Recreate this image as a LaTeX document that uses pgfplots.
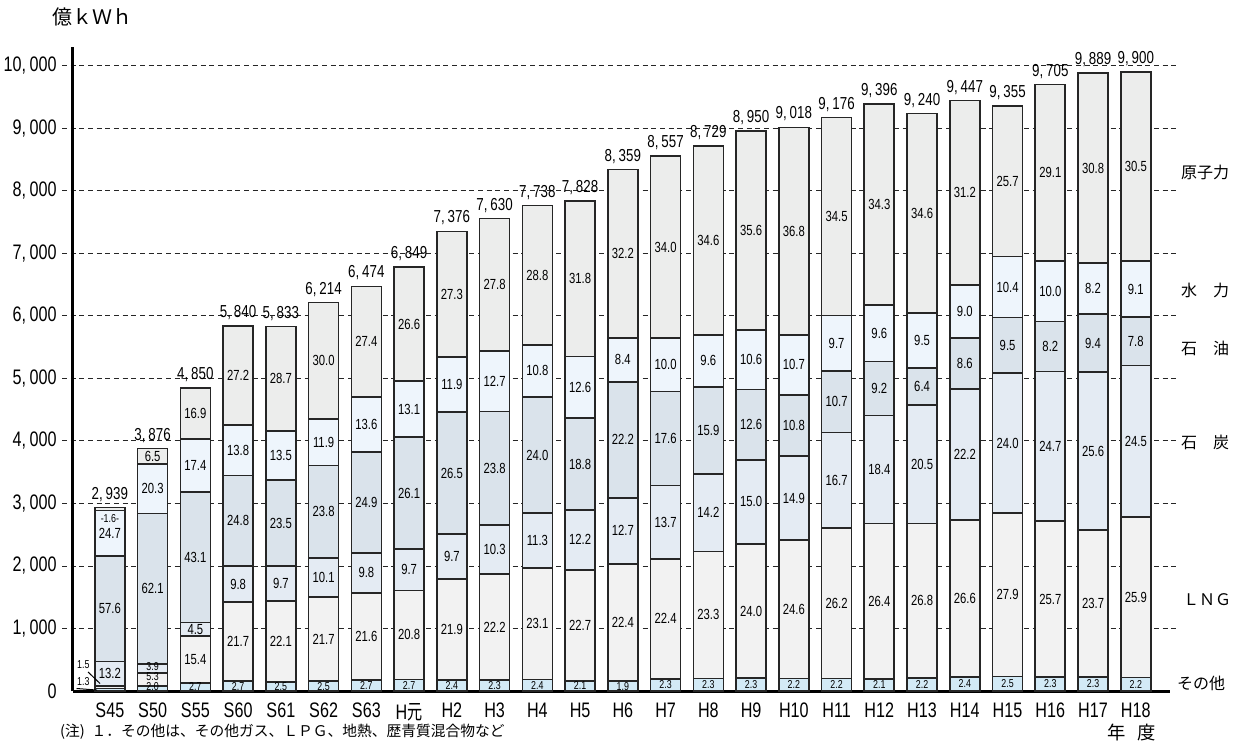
\documentclass[border=0pt]{standalone}
\usepackage{fontspec}
\usepackage{pgfplots}
\usepackage{pgfplotstable}
\pgfplotsset{compat=1.18}
\setmainfont{Liberation Sans}
\newfontfamily\nf[FakeStretch=0.77]{Liberation Sans}
\newfontfamily\jp{Noto Sans CJK JP}
\newfontfamily\jpn[FakeStretch=0.72]{Noto Sans CJK JP}
\definecolor{cOther}{HTML}{D3EAF6}
\definecolor{cLNG}{HTML}{F2F2F2}
\definecolor{cCoal}{HTML}{E4EBF3}
\definecolor{cOil}{HTML}{DAE3EB}
\definecolor{cHydro}{HTML}{EEF5FC}
\definecolor{cNuc}{HTML}{ECEDEC}

% total [100 million kWh], shares [%]: other, LNG, coal, oil, hydro, nuclear
\pgfplotstableread{
x total o lng coal oil hydro nuc
0 2939 1.3 1.5 13.2 57.6 24.7 1.6
1 3876 2.0 5.3 3.9 62.1 20.3 6.5
2 4850 2.7 15.4 4.5 43.1 17.4 16.9
3 5840 2.7 21.7 9.8 24.8 13.8 27.2
4 5833 2.5 22.1 9.7 23.5 13.5 28.7
5 6214 2.5 21.7 10.1 23.8 11.9 30.0
6 6474 2.7 21.6 9.8 24.9 13.6 27.4
7 6849 2.7 20.8 9.7 26.1 13.1 26.6
8 7376 2.4 21.9 9.7 26.5 11.9 27.3
9 7630 2.3 22.2 10.3 23.8 12.7 27.8
10 7738 2.4 23.1 11.3 24.0 10.8 28.8
11 7828 2.1 22.7 12.2 18.8 12.6 31.8
12 8359 1.9 22.4 12.7 22.2 8.4 32.2
13 8557 2.3 22.4 13.7 17.6 10.0 34.0
14 8729 2.3 23.3 14.2 15.9 9.6 34.6
15 8950 2.3 24.0 15.0 12.6 10.6 35.6
16 9018 2.2 24.6 14.9 10.8 10.7 36.8
17 9176 2.2 26.2 16.7 10.7 9.7 34.5
18 9396 2.1 26.4 18.4 9.2 9.6 34.3
19 9240 2.2 26.8 20.5 6.4 9.5 34.6
20 9447 2.4 26.6 22.2 8.6 9.0 31.2
21 9355 2.5 27.9 24.0 9.5 10.4 25.7
22 9705 2.3 25.7 24.7 8.2 10.0 29.1
23 9889 2.3 23.7 25.6 9.4 8.2 30.8
24 9900 2.2 25.9 24.5 7.8 9.1 30.5
}\elec

\newcommand\segf{\nf\fontsize{8.8}{10}\selectfont}
\newcommand\smallf{\nf\fontsize{6.9}{8}\selectfont}
\newcommand\totf{\nf\fontsize{10.4}{12}\selectfont}

\pgfplotsset{
  common/.style={
    at={(0,0)}, anchor=south west,
    scale only axis, width=668.9pt, height=386.25pt,
    xmin=-1.12, xmax=24.96, ymin=0, ymax=10300,
    clip=false, scaled y ticks=false,
  },
  seg/.style={fill=#1, draw=black!85, line width=1pt},
  lab/.style={draw=none, mark=none, nodes near coords, point meta=explicit symbolic,
    every node near coord/.append style={anchor=center, inner sep=0pt, font=#1, text=black}},
}

\begin{document}
\begin{tikzpicture}
\useasboundingbox (-37.2pt,-32.4pt) rectangle (706.2pt,414.6pt);
\begin{axis}[
  common,
  ybar stacked, bar width=18pt,
  axis line style={draw=none},
  major tick length=0pt,
  xtick={0,...,24},
  xticklabels={S45,S50,S55,S60,S61,S62,S63,H{\jpn 元},H2,H3,H4,H5,H6,H7,H8,H9,H10,H11,H12,H13,H14,H15,H16,H17,H18},
  ytick={1000,2000,...,10000},
  extra y ticks={0},
  extra y tick style={grid=none},
  ymajorgrids,
  major grid style={black!85, line width=0.6pt, dash pattern=on 3pt off 2.2pt},
  tick label style={font=\nf\fontsize{12.6}{14}\selectfont},
  yticklabel style={inner xsep=0pt, xshift=-3pt},
  xticklabel style={anchor=north, inner ysep=0pt, yshift=-7pt},
  /pgf/number format/1000 sep={,\,},
  /pgf/number format/assume math mode=true,
]
\addplot[seg=cOther] table[x=x, y expr=\thisrow{total}*\thisrow{o}/100] {\elec};
\addplot[seg=cLNG] table[x=x, y expr=\thisrow{total}*\thisrow{lng}/100] {\elec};
\addplot[seg=cCoal] table[x=x, y expr=\thisrow{total}*\thisrow{coal}/100] {\elec};
\addplot[seg=cOil] table[x=x, y expr=\thisrow{total}*\thisrow{oil}/100] {\elec};
\addplot[seg=cHydro] table[x=x, y expr=\thisrow{total}*\thisrow{hydro}/100] {\elec};
\addplot[seg=cNuc] table[x=x, y expr=\thisrow{total}*\thisrow{nuc}/100] {\elec};

% axis lines
\draw[line width=1.8pt] (axis cs:-0.866,0) -- (axis cs:-0.866,10300);
\draw[line width=1.8pt] (axis cs:-0.866,0) -- (axis cs:24.8,0);
\end{axis}

\begin{axis}[
  common, hide axis,
  /pgf/number format/1000 sep={,\,},
  /pgf/number format/assume math mode=true,
]
% segment labels at segment mid-heights
\addplot[lab=\smallf, skip coords between index={0}{2}] table[x=x, y expr=\thisrow{total}*\thisrow{o}/200, meta=o] {\elec};
\addplot[lab=\segf, skip coords between index={0}{2}] table[x=x, y expr=\thisrow{total}*(\thisrow{o}+\thisrow{lng}/2)/100, meta=lng] {\elec};
\addplot[lab=\segf, skip coords between index={1}{2}] table[x=x, y expr=\thisrow{total}*(\thisrow{o}+\thisrow{lng}+\thisrow{coal}/2)/100, meta=coal] {\elec};
\addplot[lab=\segf] table[x=x, y expr=\thisrow{total}*(\thisrow{o}+\thisrow{lng}+\thisrow{coal}+\thisrow{oil}/2)/100, meta=oil] {\elec};
\addplot[lab=\segf] table[x=x, y expr=\thisrow{total}*(\thisrow{o}+\thisrow{lng}+\thisrow{coal}+\thisrow{oil}+\thisrow{hydro}/2)/100, meta=hydro] {\elec};
\addplot[lab=\segf, skip coords between index={0}{1}] table[x=x, y expr=\thisrow{total}*(\thisrow{o}+\thisrow{lng}+\thisrow{coal}+\thisrow{oil}+\thisrow{hydro}+\thisrow{nuc}/2)/100, meta=nuc] {\elec};
% totals on top
\addplot[draw=none, mark=none, nodes near coords, point meta=\thisrow{total},
  every node near coord/.append style={anchor=south, inner sep=0pt, font=\totf, text=black, yshift=3.5pt}]
  table[x=x, y expr=\thisrow{total}*(\thisrow{o}+\thisrow{lng}+\thisrow{coal}+\thisrow{oil}+\thisrow{hydro}+\thisrow{nuc})/100] {\elec};

% S45 and S50 small values (placed so they stay readable)
\node[font=\smallf, inner sep=0pt] at (axis cs:0,2752) {-1.6-};
\node[font=\smallf, inner sep=0pt] at (axis cs:-0.62,416) {1.5};
\node[font=\smallf, inner sep=0pt] at (axis cs:-0.62,150) {1.3};
\draw[line width=0.6pt] (axis cs:-0.51,304) -- (axis cs:-0.23,120);
\draw[line width=0.6pt] (axis cs:-0.78,40) -- (axis cs:-0.3,15);
\node[font=\smallf, inner sep=0pt] at (axis cs:1,72) {2.0};
\node[font=\smallf, inner sep=0pt] at (axis cs:1,225) {5.3};
\node[font=\smallf, inner sep=0pt] at (axis cs:1,385) {3.9};

% unit
\node[anchor=west, inner sep=0pt, font=\jp\fontsize{12}{14}\selectfont] at (axis cs:-1.36,10784) {億ｋＷｈ};

% right-hand labels
\node[anchor=west, inner sep=0pt, font=\jp\fontsize{9.6}{11}\selectfont] at (axis cs:25.05,8304) {原子力};
\node[anchor=west, inner sep=0pt, font=\jp\fontsize{9.6}{11}\selectfont] at (axis cs:25.05,6416) {水　力};
\node[anchor=west, inner sep=0pt, font=\jp\fontsize{9.6}{11}\selectfont] at (axis cs:25.05,5488) {石　油};
\node[anchor=west, inner sep=0pt, font=\jp\fontsize{9.6}{11}\selectfont] at (axis cs:25.05,3984) {石　炭};
\node[anchor=west, inner sep=0pt, font=\jp\fontsize{9.6}{11}\selectfont] at (axis cs:25.1,1456) {ＬＮＧ};
\node[anchor=west, inner sep=0pt, font=\jp\fontsize{9.6}{11}\selectfont] at (axis cs:24.96,128) {その他};

% year label and footnote
\node[inner sep=0pt, font=\jp\fontsize{11}{13}\selectfont] at (axis cs:23.9,-660) {年\hspace{0.6em}度};
\node[anchor=west, inner sep=0pt, font=\jp\fontsize{8.85}{10}\selectfont] at (axis cs:-1.17,-656) {(注)\ \ １．その他は、その他ガス、ＬＰＧ、地熱、歴青質混合物など};
\end{axis}
\end{tikzpicture}
\end{document}
